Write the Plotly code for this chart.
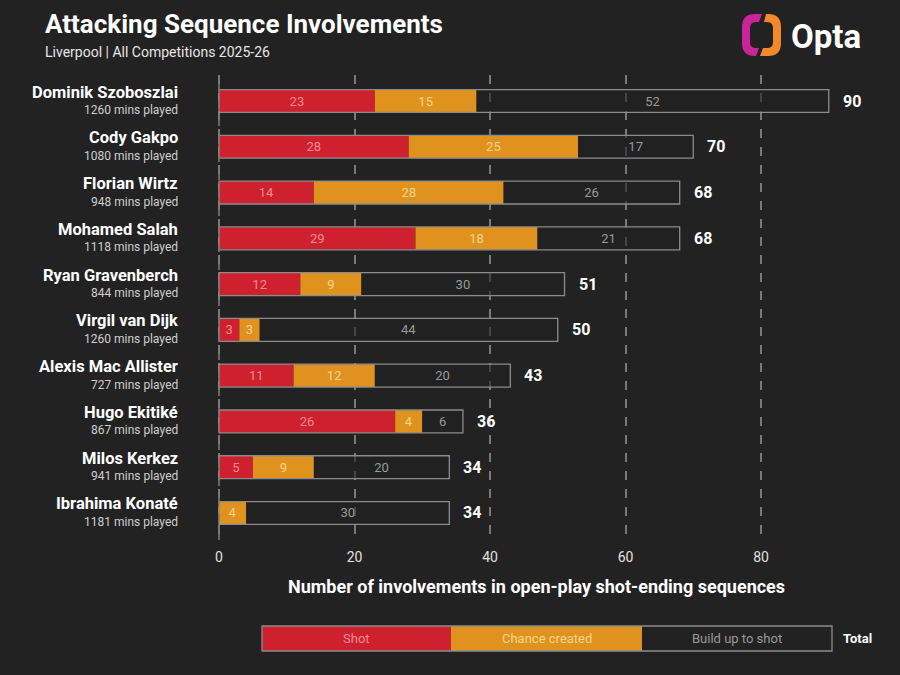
import plotly.graph_objects as go

players = ["Dominik Szoboszlai", "Cody Gakpo", "Florian Wirtz", "Mohamed Salah",
           "Ryan Gravenberch", "Virgil van Dijk", "Alexis Mac Allister", "Hugo Ekitiké",
           "Milos Kerkez", "Ibrahima Konaté"]
minutes = [1260, 1080, 948, 1118, 844, 1260, 727, 867, 941, 1181]
shot = [23, 28, 14, 29, 12, 3, 11, 26, 5, 0]
chance = [15, 25, 28, 18, 9, 3, 12, 4, 9, 4]
buildup = [52, 17, 26, 21, 30, 44, 20, 6, 20, 30]
totals = [90, 70, 68, 68, 51, 50, 43, 36, 34, 34]
x_ticks = [0, 20, 40, 60, 80]

BG = "#222222"
RED = "#CF202F"
ORANGE = "#E0921E"
OUTLINE = "#8C8C8C"
GRID = "#7A7A7A"
FONT = "Roboto"

W, H = 900, 675
L, R, T, B = 215, 20, 75, 135
PW, PH = W - L - R, H - T - B
UNIT = 6.775          # pixels per unit on x
ZERO_PX = 219         # pixel position of x = 0
X0 = -(ZERO_PX - L) / UNIT
X1 = X0 + PW / UNIT


def pxp(x, y):
    return (x - L) / PW, (H - B - y) / PH


def path(cmds):
    out = []
    for c in cmds:
        if c[0] == "Z":
            out.append("Z")
        elif c[0] == "Q":
            x1, y1 = pxp(c[1], c[2])
            x2, y2 = pxp(c[3], c[4])
            out.append(f"Q {x1:.5f},{y1:.5f} {x2:.5f},{y2:.5f}")
        else:
            x, y = pxp(c[1], c[2])
            out.append(f"{c[0]} {x:.5f},{y:.5f}")
    return " ".join(out)


fig = go.Figure()

base_chance = [s for s in shot]
base_build = [s + c for s, c in zip(shot, chance)]

fig.add_trace(go.Bar(
    y=players, x=shot, base=[0] * len(shot), orientation="h", width=0.5,
    marker=dict(color=RED, line=dict(width=0)),
    text=[str(v) if v > 0 else "" for v in shot], textposition="inside",
    insidetextanchor="middle", textangle=0,
    textfont=dict(color="#F48C8C", size=13, family=FONT), showlegend=False,
    hoverinfo="skip"))
fig.add_trace(go.Bar(
    y=players, x=chance, base=base_chance, orientation="h", width=0.5,
    marker=dict(color=ORANGE, line=dict(width=0)),
    text=[str(v) if v > 0 else "" for v in chance], textposition="inside",
    insidetextanchor="middle", textangle=0,
    textfont=dict(color="#FBD38A", size=13, family=FONT), showlegend=False,
    hoverinfo="skip"))
fig.add_trace(go.Bar(
    y=players, x=buildup, base=base_build, orientation="h", width=0.5,
    marker=dict(color="rgba(34,34,34,0.6)", line=dict(width=0)),
    text=[str(v) if v > 0 else "" for v in buildup], textposition="inside",
    insidetextanchor="middle", textangle=0,
    textfont=dict(color="#9A9A9A", size=13, family=FONT), showlegend=False,
    hoverinfo="skip"))
fig.add_trace(go.Bar(
    y=players, x=totals, base=[0] * len(totals), orientation="h", width=0.5,
    marker=dict(color="rgba(0,0,0,0)", line=dict(width=1.3, color=OUTLINE)),
    showlegend=False, hoverinfo="skip"))

annotations = []
lab_x = pxp(180, 0)[0]
for p, m, t in zip(players, minutes, totals):
    annotations.append(dict(x=lab_x, xref="paper", y=p, yref="y", text=f"<b>{p}</b>",
                            xanchor="right", yanchor="middle", yshift=9, showarrow=False,
                            font=dict(size=16.5, color="#FFFFFF", family=FONT)))
    annotations.append(dict(x=lab_x, xref="paper", y=p, yref="y", text=f"{m} mins played",
                            xanchor="right", yanchor="middle", yshift=-9, showarrow=False,
                            font=dict(size=12, color="#CFCFCF", family=FONT)))
    annotations.append(dict(x=t, xref="x", y=p, yref="y", text=f"<b>{t}</b>",
                            xanchor="left", yanchor="middle", xshift=12, showarrow=False,
                            font=dict(size=16, color="#FFFFFF", family=FONT)))

# Title / subtitle
annotations.append(dict(x=pxp(43, 0)[0], xref="paper", y=pxp(0, 24)[1], yref="paper",
                        text="<b>Attacking Sequence Involvements</b>", xanchor="left",
                        yanchor="middle", showarrow=False,
                        font=dict(size=26, color="#FFFFFF", family=FONT)))
annotations.append(dict(x=pxp(43, 0)[0], xref="paper", y=pxp(0, 52)[1], yref="paper",
                        text="Liverpool | All Competitions 2025-26", xanchor="left",
                        yanchor="middle", showarrow=False,
                        font=dict(size=14, color="#E6E6E6", family=FONT)))
# Opta wordmark
annotations.append(dict(x=pxp(789, 0)[0], xref="paper", y=pxp(0, 37)[1], yref="paper",
                        text="<b>Opta</b>", xanchor="left", yanchor="middle", showarrow=False,
                        font=dict(size=33, color="#FFFFFF", family=FONT)))
# X axis title
annotations.append(dict(x=pxp(536, 0)[0], xref="paper", y=pxp(0, 586)[1], yref="paper",
                        text="<b>Number of involvements in open-play shot-ending sequences</b>",
                        xanchor="center", yanchor="middle", showarrow=False,
                        font=dict(size=18, color="#FFFFFF", family=FONT)))

shapes = []
# dashed grid line at x = 0 (plotly omits it)
shapes.append(dict(type="line", xref="x", yref="paper", x0=0, x1=0, y0=0, y1=1,
                   line=dict(color=GRID, width=1.6, dash="dash"), layer="above"))

# Legend
leg_items = [("Shot", RED, "#F48C8C", 262, 451), ("Chance created", ORANGE, "#FBD38A", 451, 642),
             ("Build up to shot", "rgba(0,0,0,0)", "#9A9A9A", 642, 832)]
for lab, fill, tcol, x0, x1 in leg_items:
    a0, b0 = pxp(x0, 651)
    a1, b1 = pxp(x1, 626)
    shapes.append(dict(type="rect", xref="paper", yref="paper", x0=a0, y0=b0, x1=a1, y1=b1,
                       fillcolor=fill, line=dict(width=0)))
    annotations.append(dict(x=pxp((x0 + x1) / 2, 0)[0], xref="paper", y=pxp(0, 638.5)[1],
                            yref="paper", text=lab, xanchor="center", yanchor="middle",
                            showarrow=False, font=dict(size=13, color=tcol, family=FONT)))
a0, b0 = pxp(262, 651)
a1, b1 = pxp(832, 626)
shapes.append(dict(type="rect", xref="paper", yref="paper", x0=a0, y0=b0, x1=a1, y1=b1,
                   fillcolor="rgba(0,0,0,0)", line=dict(width=1.3, color=OUTLINE)))
annotations.append(dict(x=pxp(841, 0)[0], xref="paper", y=pxp(0, 638.5)[1], yref="paper",
                        text="<b>Total</b>", xanchor="left", yanchor="middle", showarrow=False,
                        font=dict(size=13, color="#FFFFFF", family=FONT)))

# Opta logo icon
left_piece = [("M", 762, 14), ("L", 755, 14), ("Q", 742, 14, 742, 27), ("L", 742, 43),
              ("Q", 742, 56, 755, 56), ("L", 756, 56), ("L", 759, 48), ("L", 756, 48),
              ("Q", 750, 48, 750, 42), ("L", 750, 28), ("Q", 750, 22, 756, 22),
              ("L", 759, 22), ("Z",)]
right_piece = [("M", 766, 14), ("L", 768, 14), ("Q", 781, 14, 781, 27), ("L", 781, 43),
               ("Q", 781, 56, 768, 56), ("L", 760, 56), ("L", 763, 48), ("L", 767, 48),
               ("Q", 773, 48, 773, 42), ("L", 773, 28), ("Q", 773, 22, 767, 22),
               ("L", 764, 22), ("Z",)]
shapes.append(dict(type="path", xref="paper", yref="paper", path=path(left_piece),
                   fillcolor="#C8259A", line=dict(width=0)))
shapes.append(dict(type="path", xref="paper", yref="paper", path=path(right_piece),
                   fillcolor="#F2892A", line=dict(width=0)))

fig.update_layout(
    width=W, height=H, paper_bgcolor=BG, plot_bgcolor=BG,
    margin=dict(l=L, r=R, t=T, b=B, pad=0),
    barmode="overlay", bargap=0.5,
    font=dict(family=FONT, color="#FFFFFF"),
    annotations=annotations, shapes=shapes,
    uniformtext=dict(minsize=13, mode="show"),
)
fig.update_xaxes(range=[X0, X1], tickvals=x_ticks, ticktext=[str(v) for v in x_ticks],
                 showgrid=True, gridcolor=GRID, griddash="dash", gridwidth=1.6,
                 zeroline=False, showline=False, ticks="outside", ticklen=4, tickcolor=BG,
                 tickfont=dict(size=14, color="#E0E0E0", family=FONT), fixedrange=True)
fig.update_yaxes(range=[9.59, -0.568], showticklabels=False, showgrid=False,
                 zeroline=False, showline=False, fixedrange=True)

fig.write_html("out.html")
